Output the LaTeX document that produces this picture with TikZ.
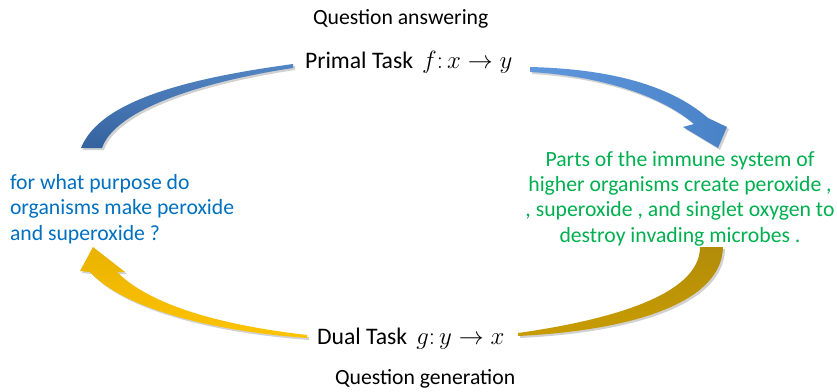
\documentclass[tikz,border=0pt]{standalone}
\usepackage{fontspec}
\setmainfont{Carlito}
\usetikzlibrary{shadings}
\definecolor{qblue}{RGB}{0,112,192}
\definecolor{qgreen}{RGB}{0,176,80}
\definecolor{tlA}{RGB}{84,134,196}
\definecolor{tlB}{RGB}{52,98,158}
\definecolor{trA}{RGB}{96,152,222}
\definecolor{trB}{RGB}{74,130,200}
\definecolor{brA}{RGB}{200,156,0}
\definecolor{brB}{RGB}{178,140,10}
\definecolor{blA}{RGB}{255,196,0}
\definecolor{blB}{RGB}{232,178,0}
\tikzset{
  lbl/.style={inner sep=0pt, outer sep=0pt, font=\fontsize{21.7}{25.3}\selectfont},
  tasklbl/.style={inner sep=0pt, outer sep=0pt, font=\fontsize{23.7}{28}\selectfont},
  shadowfill/.style={fill=black, opacity=0.18},
}
\begin{document}
\begin{tikzpicture}[x=1pt,y=-1pt]
\path[use as bounding box, fill=white] (0,0) rectangle (837,391);

% top-left tail (dark blue)
\fill[shadowfill, shift={(2,2)}] (293,64) .. controls (190,78) and (100,100) .. (81,148) -- (102,148) .. controls (115,110) and (200,82) .. (293,68) -- cycle;
\shade[top color=tlA, bottom color=tlB] (293,64) .. controls (190,78) and (100,100) .. (81,148) -- (102,148) .. controls (115,110) and (200,82) .. (293,68) -- cycle;

% top-right arrow (light blue)
\fill[shadowfill, shift={(2,2)}] (530,67) .. controls (610,69) and (670,85) .. (708,118) -- (727,127) -- (718,148) -- (683,127) -- (694,124) .. controls (660,95) and (600,76) .. (530,72) -- cycle;
\shade[left color=trA, right color=trB] (530,67) .. controls (610,69) and (670,85) .. (708,118) -- (727,127) -- (718,148) -- (683,127) -- (694,124) .. controls (660,95) and (600,76) .. (530,72) -- cycle;

% bottom-right tail (dark gold)
\fill[shadowfill, shift={(2,2)}] (723,247) .. controls (722,300) and (640,330) .. (518,336) -- (518,333) .. controls (610,320) and (700,295) .. (700,247) -- cycle;
\shade[top color=brB, bottom color=brA] (723,247) .. controls (722,300) and (640,330) .. (518,336) -- (518,333) .. controls (610,320) and (700,295) .. (700,247) -- cycle;

% bottom-left arrow (yellow)
\fill[shadowfill, shift={(2,2)}] (307,335) .. controls (220,325) and (150,305) .. (117,272) -- (125,272) -- (93,247) -- (80,271) -- (90,272) .. controls (120,305) and (200,330) .. (307,338) -- cycle;
\shade[top color=blB, bottom color=blA] (307,335) .. controls (220,325) and (150,305) .. (117,272) -- (125,272) -- (93,247) -- (80,271) -- (90,272) .. controls (120,305) and (200,330) .. (307,338) -- cycle;

% labels
\node[lbl, anchor=base west] (qa) at (313,24) {Question answering};
\node[tasklbl, anchor=base west] (primal) at (305,68) {Primal Task\hspace{9pt}$f\colon x\rightarrow y$};
\node[tasklbl, anchor=base west] (dual) at (317,344) {Dual Task\hspace{9pt}$g\colon y\rightarrow x$};
\node[lbl, anchor=base west] (qg) at (335,384) {Question generation};
\node[lbl, anchor=base west, align=left, text=qblue] (q) at (10,240) {for what purpose do\\organisms make peroxide\\and superoxide ?};
\node[lbl, anchor=base, align=center, text=qgreen] (a) at (680,242) {Parts of the immune system of\\higher organisms create peroxide ,\\, superoxide , and singlet oxygen to\\destroy invading microbes .};
\end{tikzpicture}
\end{document}
